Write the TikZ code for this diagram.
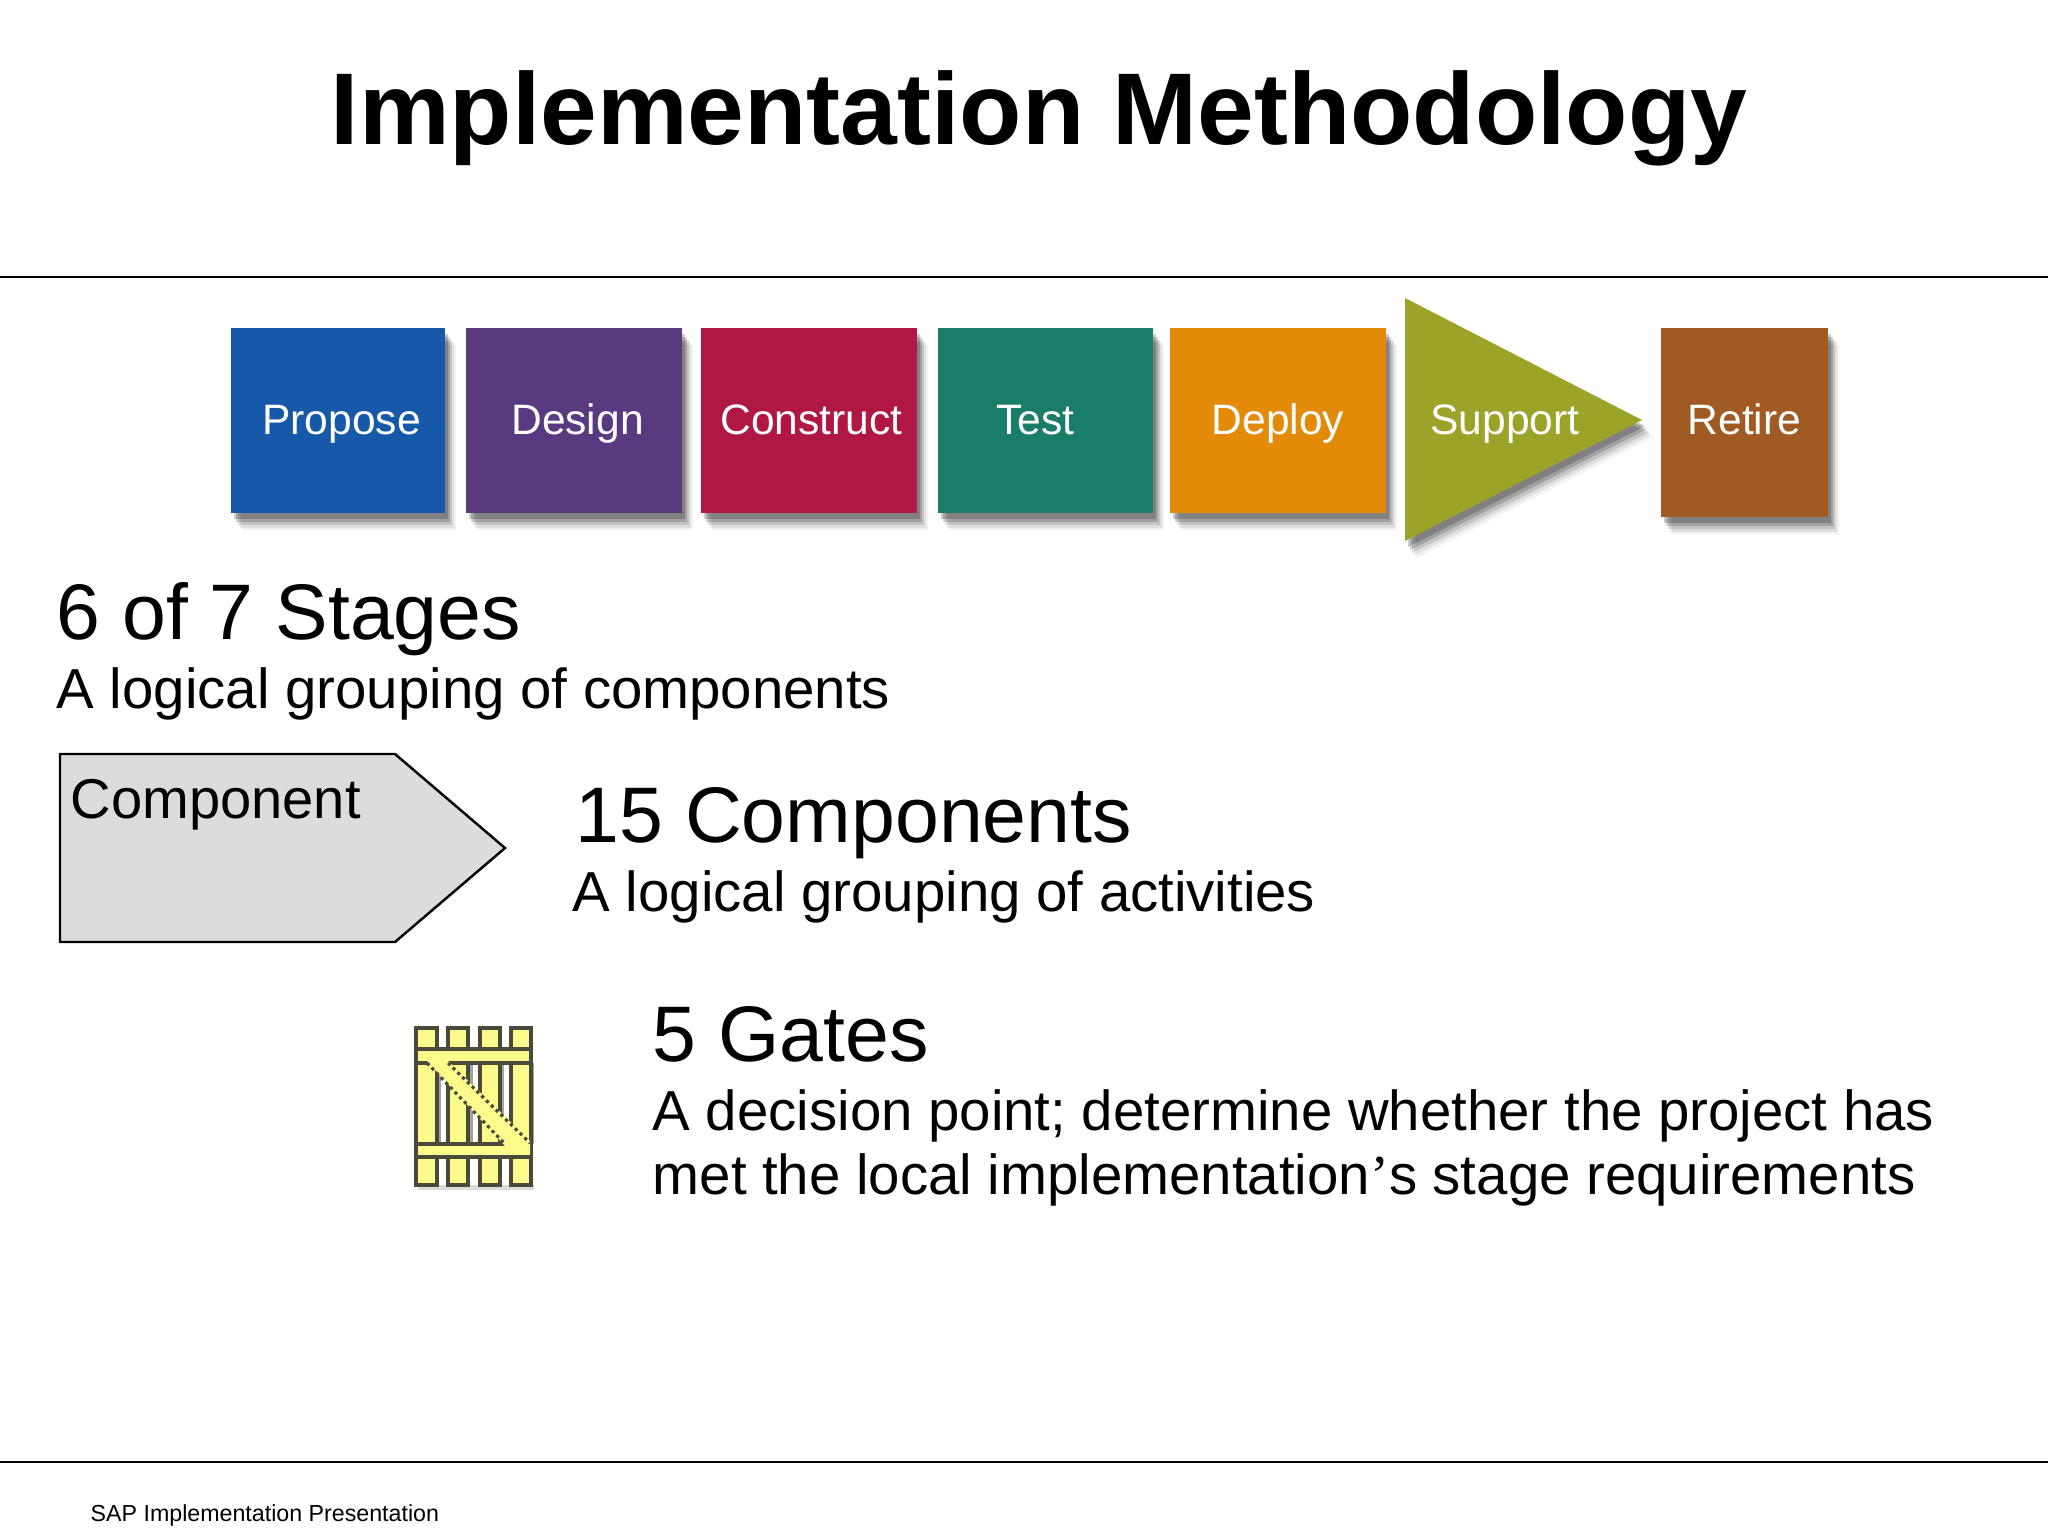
\documentclass[tikz,border=0pt]{standalone}
\usepackage{fontspec}
\setmainfont{Liberation Sans}
\usetikzlibrary{shadows}
\newfontfamily\quotefont{Liberation Serif}
\definecolor{proposeblue}{HTML}{1559A8}
\definecolor{designpurple}{HTML}{573A80}
\definecolor{constructred}{HTML}{B01843}
\definecolor{testgreen}{HTML}{1A7D68}
\definecolor{deployorange}{HTML}{E38A08}
\definecolor{supportolive}{HTML}{9BA429}
\definecolor{retirebrown}{HTML}{A05A22}
\definecolor{componentgrey}{HTML}{DCDCDC}
\definecolor{gateyellow}{HTML}{FBFB8C}
\definecolor{gateline}{HTML}{4A4A3A}
\tikzset{
  softshadow/.style={
    drop shadow={shadow xshift=.11cm,shadow yshift=-.17cm,opacity=.05,fill=black},
    drop shadow={shadow xshift=.09cm,shadow yshift=-.145cm,opacity=.08,fill=black},
    drop shadow={shadow xshift=.07cm,shadow yshift=-.12cm,opacity=.12,fill=black},
    drop shadow={shadow xshift=.05cm,shadow yshift=-.09cm,opacity=.18,fill=black},
    drop shadow={shadow xshift=.03cm,shadow yshift=-.06cm,opacity=.2,fill=black}},
  stagelabel/.style={text=white,text height=.4cm,text depth=.12cm,font=\fontsize{12.1}{14}\selectfont},
  stagebox/.style={stagelabel,softshadow,minimum height=1.85cm,inner sep=0pt},
  bighead/.style={anchor=base west,inner sep=0pt,font=\fontsize{22.4}{26}\selectfont},
  subhead/.style={anchor=base west,inner sep=0pt,font=\fontsize{16.03}{18.2}\selectfont},
  plank/.style={fill=gateyellow,draw=gateline,line width=.9pt},
  plankshade/.style={fill=gateline!50},
}
\begin{document}
\begin{tikzpicture}[x=0.01cm,y=-0.01cm]
      \useasboundingbox (0,0) rectangle (2048,1536);
      % header and footer
      \node[anchor=base,inner sep=0pt,font=\fontsize{29}{34}\selectfont\bfseries] (title) at (1039,144) {Implementation Methodology};
      \draw[line width=.5pt] (0,277) -- (2048,277);
      \draw[line width=.5pt] (0,1462) -- (2048,1462);
      \node[anchor=base west,inner sep=0pt,font=\fontsize{6.6}{8}\selectfont] (footer) at (90,1521) {SAP Implementation Presentation};
      % stages
      \node[stagebox,fill=proposeblue,minimum width=2.14cm] (propose) at (338,420.5) {\hspace{.07cm}Propose};
      \node[stagebox,fill=designpurple,minimum width=2.16cm] (design) at (574,420.5) {\hspace{.07cm}Design};
      \node[stagebox,fill=constructred,minimum width=2.16cm] (construct) at (809,420.5) {\hspace{.05cm}Construct};
      \node[stagebox,fill=testgreen,minimum width=2.15cm] (test) at (1045.5,420.5) {\hspace{-.2cm}Test};
      \node[stagebox,fill=deployorange,minimum width=2.16cm] (deploy) at (1278,420.5) {Deploy};
      \fill[supportolive,softshadow] (1405,298) -- (1642,420) -- (1405,541) -- cycle;
      \node[stagelabel,inner sep=0pt] (support) at (1505,420.5) {Support};
      \node[stagebox,fill=retirebrown,minimum width=1.67cm,minimum height=1.89cm,text height=.35cm] (retire) at (1744.5,422.5) {Retire};
      % texts
      \node[bighead] (stagehead) at (56,639) {6 of 7 Stages};
      \node[subhead] (stagetext) at (56,708) {A logical grouping of components};
      \draw[fill=componentgrey,line width=.7pt] (60,754) -- (395,754) -- (505,848) -- (395,942) -- (60,942) -- cycle;
      \node[anchor=base west,inner sep=0pt,font=\fontsize{15.95}{18}\selectfont] (component) at (70,818) {Component};
      \node[bighead] (comphead) at (575,842) {15 Components};
      \node[subhead] (comptext) at (572,911) {A logical grouping of activities};
      \node[bighead] (gatehead) at (652,1061) {5 Gates};
      \node[subhead,align=left] (gatetext) at (652,1194) {A decision point; determine whether the project has\\met the local implementation{\quotefont ’}s stage requirements};
      % gate
      \fill[plankshade] (436,1063) rectangle (441,1144);
      \fill[plankshade] (467,1063) rectangle (473,1144);
      \fill[plankshade] (499,1063) rectangle (504,1144);
      \fill[plankshade] (530,1063) rectangle (534,1144);
      \fill[gateline!20] (418,1185) rectangle (534,1190);
      \draw[plank] (416,1028) rectangle (437,1185);
      \draw[plank] (448,1028) rectangle (468,1185);
      \draw[plank] (480,1028) rectangle (500,1185);
      \draw[plank] (511,1028) rectangle (531,1185);
      \draw[plank] (416,1049) rectangle (531,1063);
      \draw[plank] (416,1144) rectangle (531,1157);
      \fill[gateyellow] (427,1061) -- (448,1061) -- (530,1141) -- (530,1155) -- (505,1146) -- cycle;
      \draw[gateline,densely dotted,line width=.9pt] (427,1063) -- (505,1144);
      \draw[gateline,densely dotted,line width=.9pt] (448,1063) -- (530,1143);
    \end{tikzpicture}
\end{document}
